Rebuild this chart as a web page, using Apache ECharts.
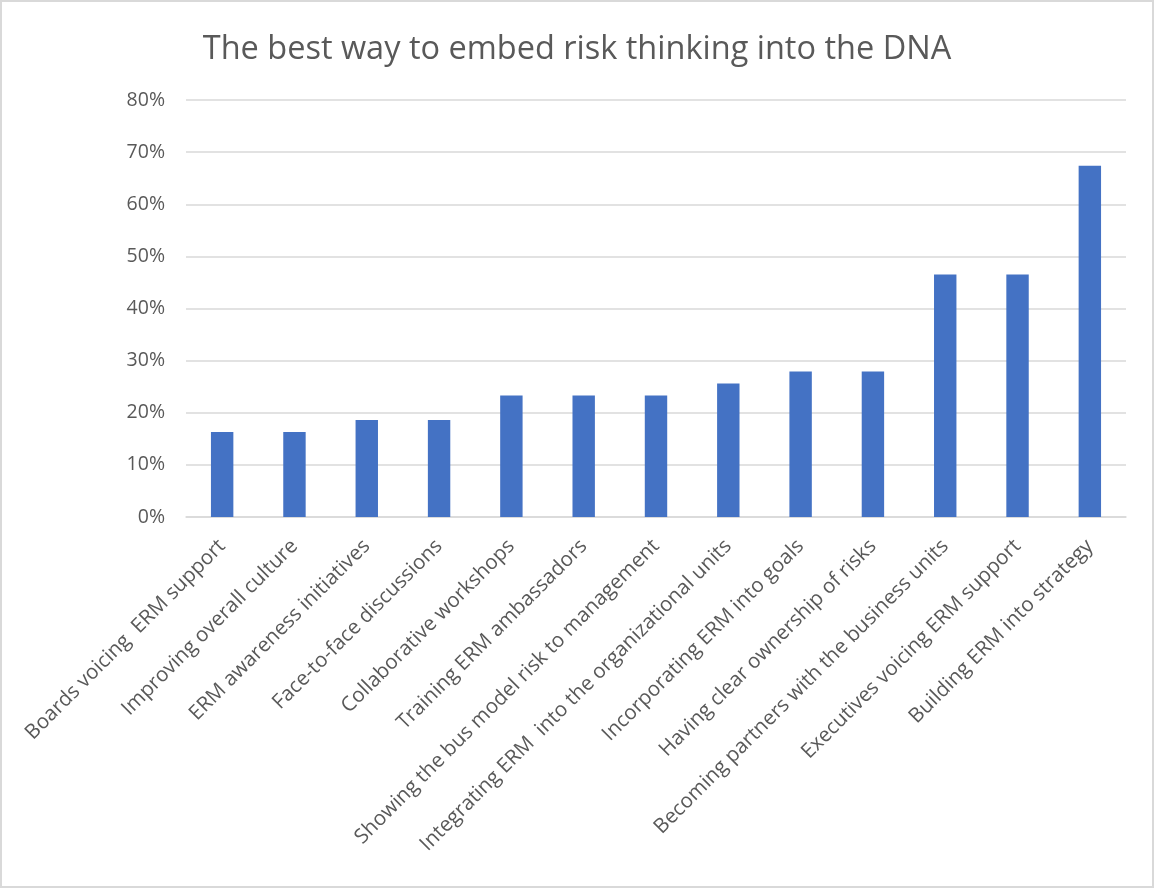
<!DOCTYPE html>
<html>
<head>
<meta charset="utf-8">
<script src="https://cdn.jsdelivr.net/npm/echarts@6/dist/echarts.min.js"></script>
<style>
  html, body { margin: 0; padding: 0; background: #fff; }
  #chart {
    width: 1150px;
    height: 884px;
    border: 2px solid #d9d9d9;
  }
</style>
</head>
<body>
<div id="chart"></div>
<script>
// category labels (bottom axis)
const categories = [
  'Boards voicing  ERM support',
  'Improving overall culture',
  'ERM awareness initiatives',
  'Face-to-face discussions',
  'Collaborative workshops',
  'Training ERM ambassadors',
  'Showing the bus model risk to management',
  'Integrating ERM  into the organizational units',
  'Incorporating ERM into goals',
  'Having clear ownership of risks',
  'Becoming partners with the business units',
  'Executives voicing ERM support',
  'Building ERM into strategy'
]

// share of respondents, in percent
const shares = [16.3, 16.3, 18.6, 18.6, 23.3, 23.3, 23.3, 25.6, 27.9, 27.9, 46.5, 46.5, 67.4]

const yMin = 0
const yMax = 80
const yStep = 10

const chart = echarts.init(document.getElementById('chart'))

const textColor = '#595959'
const font = '"Open Sans", "Liberation Sans", sans-serif'

chart.setOption({
  animation: false,
  title: {
    text: 'The best way to embed risk thinking into the DNA',
    left: 'center',
    top: 26,
    textStyle: {
      fontFamily: font,
      fontSize: 32.5,
      fontWeight: 'normal',
      color: textColor
    }
  },
  grid: {
    left: 184,
    right: 26,
    top: 98,
    bottom: 369
  },
  xAxis: {
    type: 'category',
    data: categories,
    axisTick: { show: false },
    axisLine: { lineStyle: { color: '#d9d9d9', width: 1.5 } },
    axisLabel: {
      rotate: 45,
      interval: 0,
      margin: 26,
      fontFamily: font,
      fontSize: 20.5,
      color: textColor
    }
  },
  yAxis: {
    type: 'value',
    min: yMin,
    max: yMax,
    interval: yStep,
    axisLine: { show: false },
    axisTick: { show: false },
    splitLine: { lineStyle: { color: '#d9d9d9', width: 1.5 } },
    axisLabel: {
      formatter: '{value}%',
      margin: 21,
      fontFamily: font,
      fontSize: 19.5,
      color: textColor
    }
  },
  series: [
    {
      type: 'bar',
      data: shares,
      barWidth: '31%',
      itemStyle: { color: '#4472c4' }
    }
  ]
})
</script>
</body>
</html>
